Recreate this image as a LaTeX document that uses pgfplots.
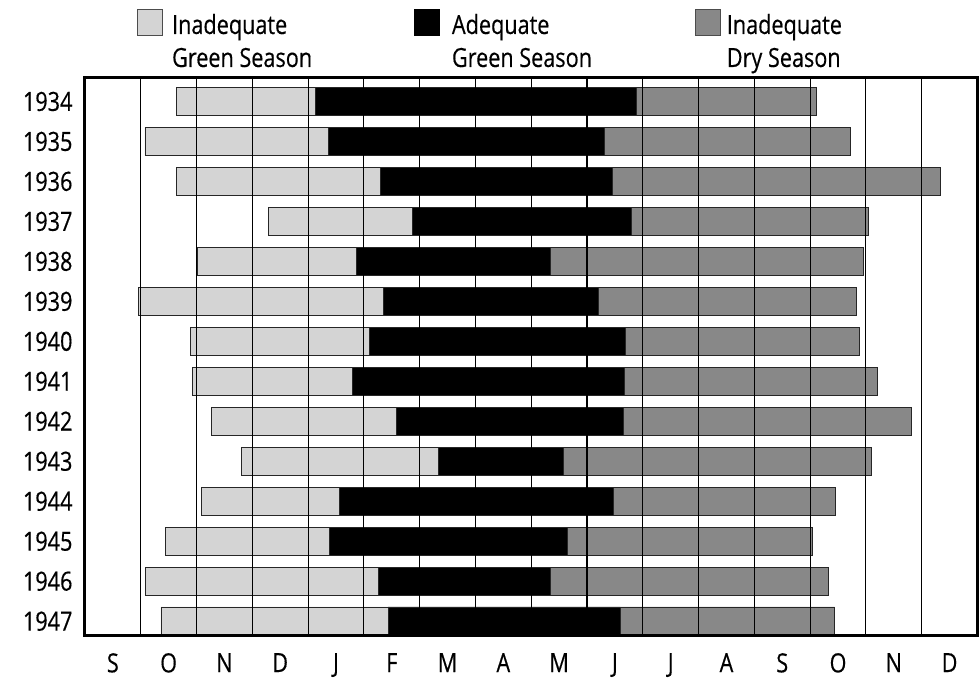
\documentclass[border=0pt]{standalone}
\usepackage{pgfplots}
\usepackage{pgfplotstable}
\pgfplotsset{compat=1.18}
\usepackage{fontspec}
\setmainfont{Open Sans}[FakeStretch=0.82, FakeBold=0.4]

\definecolor{lightbar}{HTML}{D4D4D4}
\definecolor{darkbar}{HTML}{888888}

% season boundaries in months from the start of September
\pgfplotstableread{
year  s      g      d      e
1934  1.643  4.139  9.885  13.103
1935  1.075  4.372  9.317  13.720
1936  1.636  5.304  9.455  15.338
1937  3.292  5.877  9.801  14.048
1938  2.012  4.874  8.350  13.963
1939  0.955  5.358  9.210  13.833
1940  1.887  5.107  9.694  13.881
1941  1.930  4.789  9.676  14.203
1942  2.270  5.590  9.658  14.806
1943  2.808  6.343  8.583  14.089
1944  2.091  4.569  9.479  13.456
1945  1.446  4.390  8.654  13.032
1946  1.088  5.268  8.350  13.325
1947  1.362  5.433  9.599  13.438
}\seasons

\begin{document}
\begin{tikzpicture}
\begin{axis}[
    xbar stacked,
    bar width=28.4bp,
    width=893bp, height=558bp,
    scale only axis,
    axis on top,
    y dir=reverse,
    xmin=0, xmax=16,
    ymin=1933.4125, ymax=1947.3625,
    xtick={0.5,1.5,...,15.5},
    xticklabels={S,O,N,D,J,F,M,A,M,J,J,A,S,O,N,D},
    minor xtick={1,2,...,15},
    xminorgrids=true,
    minor grid style={black, line width=1.1bp},
    ytick={1934,1935,...,1947},
    yticklabels={1934,1935,1936,1937,1938,1939,1940,1941,1942,1943,1944,1945,1946,1947},
    major tick length=0pt, minor tick length=0pt,
    axis line style={line width=3bp},
    ticklabel style={font=\fontsize{26.5}{30}\selectfont},
    xticklabel style={yshift=-14bp},
    yticklabel style={xshift=-9bp},
    every axis plot/.append style={draw=black!85, line width=0.8bp},
]
\addplot[fill=none, draw=none, forget plot] table[y=year, x=s] {\seasons};
\addplot[fill=lightbar] table[y=year, x expr=\thisrow{g}-\thisrow{s}] {\seasons};
\addplot[fill=black] table[y=year, x expr=\thisrow{d}-\thisrow{g}] {\seasons};
\addplot[fill=darkbar] table[y=year, x expr=\thisrow{e}-\thisrow{d}] {\seasons};
\end{axis}

% legend
\begin{scope}[every node/.style={font=\fontsize{26.5}{30}\selectfont, inner sep=0pt}]
\draw[fill=lightbar, draw=black!70, line width=0.8bp]
  ([xshift=52.7bp, yshift=43bp]current axis.north west) rectangle ++(25bp,26bp);
\node[anchor=base west] at ([xshift=87bp, yshift=44bp]current axis.north west) {Inadequate};
\node[anchor=base west] at ([xshift=87bp, yshift=11bp]current axis.north west) {Green Season};
\draw[fill=black, draw=black, line width=0.8bp]
  ([xshift=329.7bp, yshift=43bp]current axis.north west) rectangle ++(25bp,26bp);
\node[anchor=base west] at ([xshift=367bp, yshift=44bp]current axis.north west) {Adequate};
\node[anchor=base west] at ([xshift=367bp, yshift=11bp]current axis.north west) {Green Season};
\draw[fill=darkbar, draw=black!70, line width=0.8bp]
  ([xshift=610.4bp, yshift=43bp]current axis.north west) rectangle ++(25bp,26bp);
\node[anchor=base west] at ([xshift=642bp, yshift=44bp]current axis.north west) {Inadequate};
\node[anchor=base west] at ([xshift=642bp, yshift=11bp]current axis.north west) {Dry Season};
\end{scope}

\path ([xshift=-85bp, yshift=-44bp]current axis.south west)
  rectangle ([xshift=1bp, yshift=78bp]current axis.north east);
\end{tikzpicture}
\end{document}
